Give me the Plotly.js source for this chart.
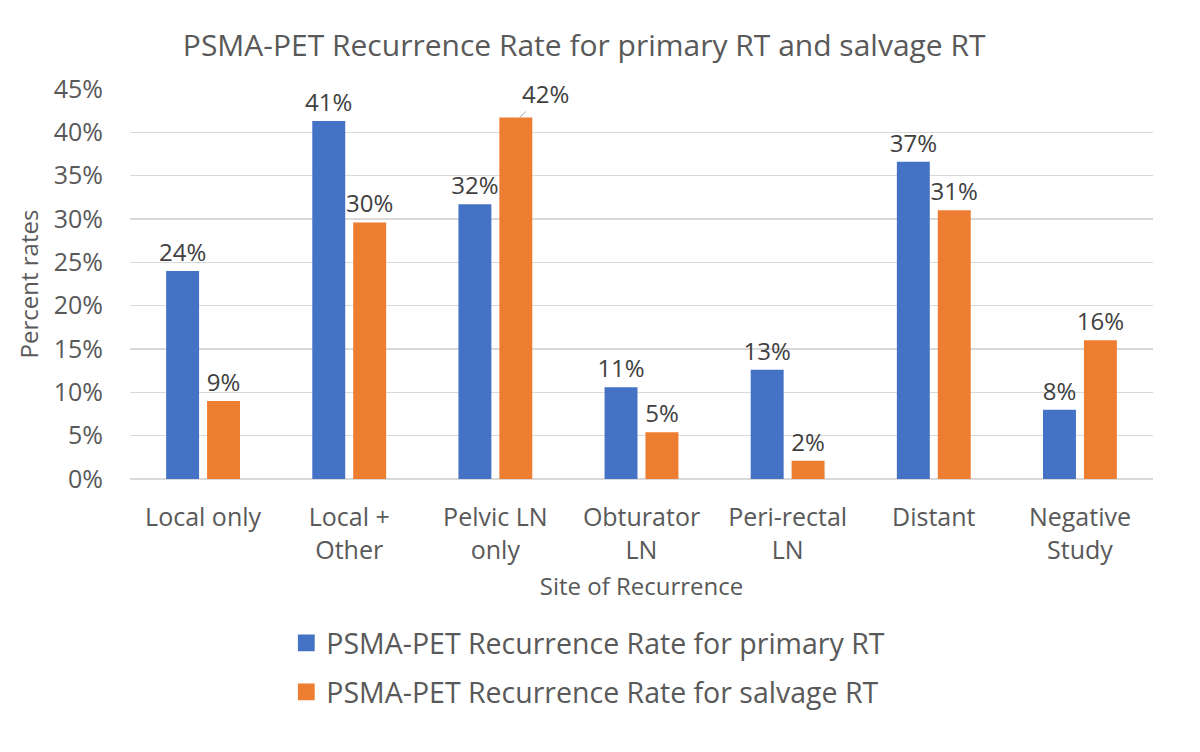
<!DOCTYPE html>
<html>
<head>
<meta charset="utf-8">
<script src="https://cdn.plot.ly/plotly-3.0.1.min.js"></script>
<style>html,body{margin:0;padding:0;background:#fff;}#chart{width:1200px;height:752px;}</style>
</head>
<body>
<div id="chart"></div>
<script>
const categories = ["Local only", "Local +<br>Other", "Pelvic LN<br>only", "Obturator<br>LN", "Peri-rectal<br>LN", "Distant", "Negative<br>Study"];
const primaryRT = [24.0, 41.3, 31.7, 10.6, 12.6, 36.6, 8.0];
const salvageRT = [9.0, 29.6, 41.7, 5.4, 2.1, 31.0, 16.0];
const seriesNames = ["PSMA-PET Recurrence Rate for primary RT", "PSMA-PET Recurrence Rate for salvage RT"];
const yTicks = [0, 5, 10, 15, 20, 25, 30, 35, 40, 45];
// index of the salvage label that Excel moved off the bar with a leader line
const calloutIndex = 2;

const FONT = "Open Sans, sans-serif";
const pct = v => Math.round(v) + "%";
const mk = (vals, labels, name, color, grp) => ({
  type: "bar", x: categories, y: vals, name: name, legendgroup: grp,
  marker: {color: color},
  text: labels,
  textposition: "outside", cliponaxis: false, constraintext: "none",
  textfont: {family: FONT, size: 24, color: "#404040"},
  hoverinfo: "x+y"
});
const salvageLabels = salvageRT.map((v, i) => i === calloutIndex ? "" : pct(v));
const data = [
  mk(primaryRT, primaryRT.map(pct), seriesNames[0], "#4472C4", "a"),
  mk(salvageRT, salvageLabels, seriesNames[1], "#ED7D31", "b")
];
const layout = {
  width: 1200, height: 752,
  paper_bgcolor: "#fff", plot_bgcolor: "#fff",
  margin: {l: 130, r: 47, t: 89, b: 273},
  font: {family: FONT, color: "#595959"},
  title: {text: "PSMA-PET Recurrence Rate for primary RT and salvage RT", xref: "paper", x: 0.444, xanchor: "center", yref: "container", y: 0.94, yanchor: "middle", font: {family: FONT, size: 30, color: "#595959"}},
  barmode: "group", bargap: 0.44, bargroupgap: 0.195,
  xaxis: {
    tickfont: {family: FONT, size: 25, color: "#595959"},
    showline: false, ticks: "", fixedrange: true, ticklabelstandoff: 21,
    title: {text: "Site of Recurrence", font: {family: FONT, size: 24, color: "#595959"}, standoff: 13}
  },
  yaxis: {
    range: [0, 45], tickvals: yTicks, ticktext: yTicks.map(v => v + "%"),
    tickfont: {family: FONT, size: 25, color: "#595959"},
    gridcolor: "#D9D9D9", gridwidth: 1.3, zeroline: true, zerolinecolor: "#D9D9D9", zerolinewidth: 1.3,
    showline: false, ticks: "", ticklabelstandoff: 26,
    title: {text: "Percent rates", font: {family: FONT, size: 24, color: "#595959"}, standoff: 8}
  },
  annotations: [{
    x: categories[calloutIndex], y: salvageRT[calloutIndex], xref: "x", yref: "y",
    xshift: 24, text: pct(salvageRT[calloutIndex]),
    showarrow: true, arrowhead: 0, arrowwidth: 1, arrowcolor: "#A6A6A6",
    ax: 26, ay: -24, standoff: 0,
    font: {family: FONT, size: 24, color: "#404040"}
  }],
  showlegend: true,
  legend: {orientation: "v", x: 0.448, xanchor: "center", y: -0.356, yanchor: "top",
    font: {family: FONT, size: 28.5, color: "#595959"}, tracegroupgap: 9, itemwidth: 30},
};
Plotly.newPlot("chart", data, layout, {displayModeBar: false, staticPlot: true}).then(gd => {
  gd.querySelectorAll(".legendpoints path").forEach(p => {
    const t = p.getAttribute("transform") || "";
    p.setAttribute("transform", t + " scale(1.4)");
  });
});
</script>
</body>
</html>
